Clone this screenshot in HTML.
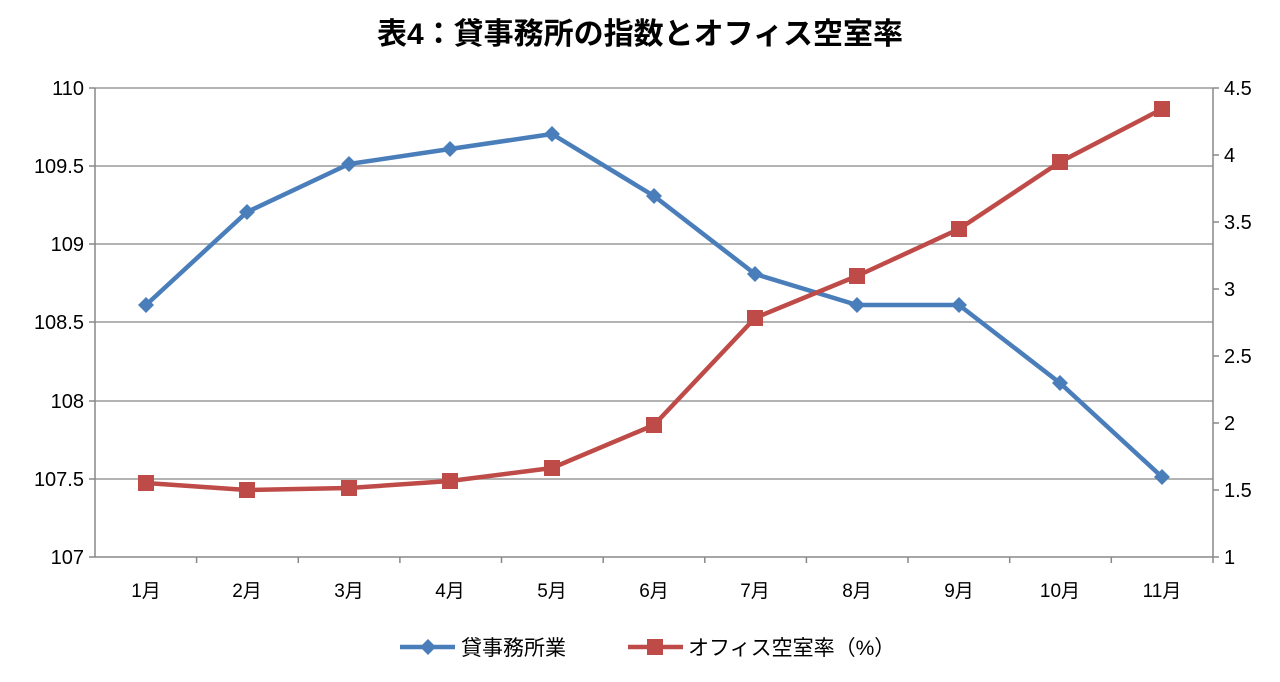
<!DOCTYPE html>
<html><head><meta charset="utf-8"><style>
html,body{margin:0;padding:0;background:#fff;}
svg{display:block;font-family:"Liberation Sans","Noto Sans CJK JP",sans-serif;}
</style></head><body>
<svg width="1280" height="682" viewBox="0 0 1280 682" xmlns="http://www.w3.org/2000/svg">
<rect width="1280" height="682" fill="#fff"/>
<text x="640" y="44" text-anchor="middle" font-size="30" font-weight="bold" fill="#000">表4：貸事務所の指数とオフィス空室率</text>
<g stroke="#9a9a9a" stroke-width="1.5">
<line x1="95" y1="88" x2="1213" y2="88"/>
<line x1="95" y1="166" x2="1213" y2="166"/>
<line x1="95" y1="244" x2="1213" y2="244"/>
<line x1="95" y1="322" x2="1213" y2="322"/>
<line x1="95" y1="401" x2="1213" y2="401"/>
<line x1="95" y1="479" x2="1213" y2="479"/>
</g>
<g stroke="#888" stroke-width="1.5">
<line x1="95" y1="88" x2="95" y2="557"/>
<line x1="1213" y1="88" x2="1213" y2="557"/>
<line x1="95" y1="557" x2="1213" y2="557"/>
<line x1="89" y1="88" x2="95" y2="88"/><line x1="89" y1="166" x2="95" y2="166"/><line x1="89" y1="244" x2="95" y2="244"/><line x1="89" y1="322" x2="95" y2="322"/><line x1="89" y1="401" x2="95" y2="401"/><line x1="89" y1="479" x2="95" y2="479"/><line x1="89" y1="557" x2="95" y2="557"/>
<line x1="1213" y1="88" x2="1219" y2="88"/><line x1="1213" y1="155" x2="1219" y2="155"/><line x1="1213" y1="222" x2="1219" y2="222"/><line x1="1213" y1="289" x2="1219" y2="289"/><line x1="1213" y1="356" x2="1219" y2="356"/><line x1="1213" y1="423" x2="1219" y2="423"/><line x1="1213" y1="490" x2="1219" y2="490"/><line x1="1213" y1="557" x2="1219" y2="557"/>
<line x1="196.6" y1="557" x2="196.6" y2="563"/><line x1="298.3" y1="557" x2="298.3" y2="563"/><line x1="399.9" y1="557" x2="399.9" y2="563"/><line x1="501.5" y1="557" x2="501.5" y2="563"/><line x1="603.2" y1="557" x2="603.2" y2="563"/><line x1="704.8" y1="557" x2="704.8" y2="563"/><line x1="806.4" y1="557" x2="806.4" y2="563"/><line x1="908" y1="557" x2="908" y2="563"/><line x1="1009.7" y1="557" x2="1009.7" y2="563"/><line x1="1111.3" y1="557" x2="1111.3" y2="563"/><line x1="1213" y1="557" x2="1213" y2="563"/>
</g>
<g font-size="20" fill="#000" text-anchor="end">
<text x="84" y="95">110</text><text x="84" y="173">109.5</text><text x="84" y="251">109</text><text x="84" y="329">108.5</text><text x="84" y="408">108</text><text x="84" y="486">107.5</text><text x="84" y="564">107</text>
</g>
<g font-size="20" fill="#000" text-anchor="start">
<text x="1224" y="95">4.5</text><text x="1224" y="162">4</text><text x="1224" y="229">3.5</text><text x="1224" y="296">3</text><text x="1224" y="363">2.5</text><text x="1224" y="430">2</text><text x="1224" y="497">1.5</text><text x="1224" y="564">1</text>
</g>
<g font-size="19" fill="#000" text-anchor="middle">
<text x="146" y="597">1月</text><text x="247" y="597">2月</text><text x="349" y="597">3月</text><text x="450" y="597">4月</text><text x="552" y="597">5月</text><text x="654" y="597">6月</text><text x="755" y="597">7月</text><text x="857" y="597">8月</text><text x="959" y="597">9月</text><text x="1060" y="597">10月</text><text x="1162" y="597">11月</text>
</g>
<polyline fill="none" stroke="#4a7ebb" stroke-width="4.5" stroke-linejoin="round" points="146,305 247,212 349,164 450,149 552,134 654,196 755,274 857,305 959,305 1060,383 1162,477"/>
<g fill="#4a7ebb">
<path d="M146,297l8,8l-8,8l-8,-8z"/><path d="M247,204l8,8l-8,8l-8,-8z"/><path d="M349,156l8,8l-8,8l-8,-8z"/><path d="M450,141l8,8l-8,8l-8,-8z"/><path d="M552,126l8,8l-8,8l-8,-8z"/><path d="M654,188l8,8l-8,8l-8,-8z"/><path d="M755,266l8,8l-8,8l-8,-8z"/><path d="M857,297l8,8l-8,8l-8,-8z"/><path d="M959,297l8,8l-8,8l-8,-8z"/><path d="M1060,375l8,8l-8,8l-8,-8z"/><path d="M1162,469l8,8l-8,8l-8,-8z"/>
</g>
<polyline fill="none" stroke="#be4b48" stroke-width="4.5" stroke-linejoin="round" points="146,483 247,490 349,488 450,481 552,468 654,425 755,318 857,276 959,229 1060,162 1162,109"/>
<g fill="#be4b48">
<rect x="138" y="475" width="16" height="16"/><rect x="239" y="482" width="16" height="16"/><rect x="341" y="480" width="16" height="16"/><rect x="442" y="473" width="16" height="16"/><rect x="544" y="460" width="16" height="16"/><rect x="646" y="417" width="16" height="16"/><rect x="747" y="310" width="16" height="16"/><rect x="849" y="268" width="16" height="16"/><rect x="951" y="221" width="16" height="16"/><rect x="1052" y="154" width="16" height="16"/><rect x="1154" y="101" width="16" height="16"/>
</g>
<line x1="400" y1="647" x2="455" y2="647" stroke="#4a7ebb" stroke-width="4.5"/>
<path d="M428,639l8,8l-8,8l-8,-8z" fill="#4a7ebb"/>
<text x="461" y="655" font-size="21" fill="#000">貸事務所業</text>
<line x1="628" y1="647" x2="683" y2="647" stroke="#be4b48" stroke-width="4.5"/>
<rect x="647" y="639" width="16" height="16" fill="#be4b48"/>
<text x="688" y="655" font-size="21" fill="#000">オフィス空室率（%）</text>
</svg>
</body></html>
